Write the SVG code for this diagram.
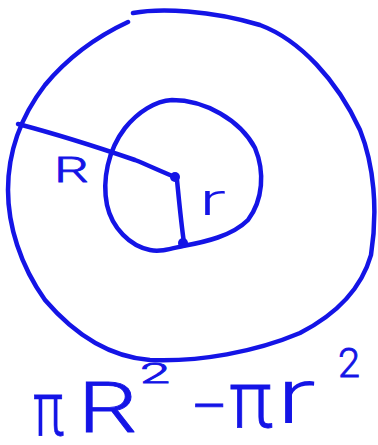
<svg xmlns="http://www.w3.org/2000/svg" width="378" height="445" viewBox="0 0 378 445">
<style>
.ink{fill:none;stroke:#1414e6;stroke-width:4.5;stroke-linecap:round;stroke-linejoin:round}
.dot{fill:#1414e6}
.hw{font-family:Roboto,"Liberation Sans","DejaVu Sans",sans-serif;font-weight:300;fill:#1414e6;stroke:#1414e6;stroke-width:0.8}
</style>
<rect width="378" height="445" fill="#ffffff"/>
<g id="outer-circle">
<path class="ink" d="M133,13 C160,8 210,10 260,25 C300,40 337,80 360,130 C374,165 378,210 371,255 C361,290 335,315 300,333 C255,352 200,362 150,360 C110,357 75,335 45,300 C20,265 8,225 8,190 C8,150 22,115 45,85 C70,55 100,35 128,22"/>
</g>
<g id="inner-circle">
<path class="ink" d="M172,100 C205,100 240,120 255,148 C265,172 263,200 248,220 C232,236 205,242 183,246 C170,249 160,252 150,250 C130,246 112,228 107,205 C102,180 108,150 125,128 C138,112 155,101 172,100 Z"/>
</g>
<g id="connectors">
<path class="ink" d="M18,124 C60,135 100,148 135,160 C150,166 162,172 175,177"/>
<path class="ink" d="M177,180 C179,200 181,222 184,243"/>
<circle class="dot" cx="175" cy="177" r="5"/>
<circle class="dot" cx="183" cy="243" r="5"/>
</g>
<g id="labels">
<text class="hw" x="54" y="182" font-size="35" textLength="35" lengthAdjust="spacingAndGlyphs">R</text>
<text class="hw" x="199" y="215" font-size="44" textLength="27" lengthAdjust="spacingAndGlyphs" style="stroke-width:0">r</text>
<text class="hw"><tspan x="33" y="435" font-size="76" textLength="31" lengthAdjust="spacingAndGlyphs">π</tspan><tspan x="78" y="432" font-size="70" textLength="60" lengthAdjust="spacingAndGlyphs">R</tspan><tspan x="140" y="383" font-size="28" textLength="30" lengthAdjust="spacingAndGlyphs">2</tspan><tspan x="190" y="426" font-size="58" textLength="38" lengthAdjust="spacingAndGlyphs">−</tspan><tspan x="229" y="427" font-size="80" textLength="44" lengthAdjust="spacingAndGlyphs">π</tspan><tspan x="276" y="423" font-size="77" textLength="40" lengthAdjust="spacingAndGlyphs" style="stroke-width:0">r</tspan><tspan x="338" y="377" font-size="40" textLength="22" lengthAdjust="spacingAndGlyphs">2</tspan></text>
</g>
</svg>
